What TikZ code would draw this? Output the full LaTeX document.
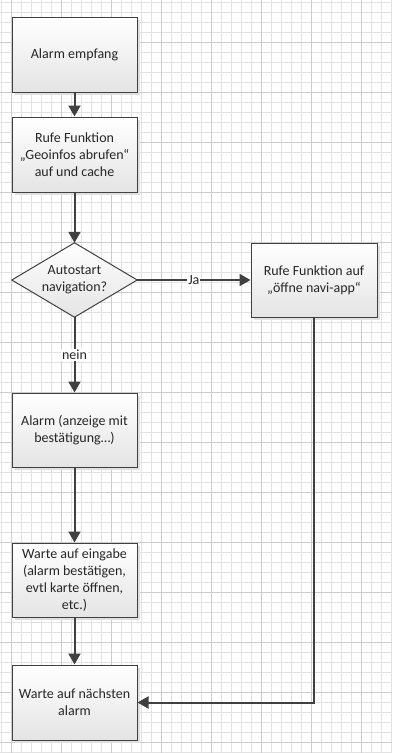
\documentclass[tikz,border=0pt]{standalone}
\usepackage{fontspec}
\setmainfont{Carlito}
\usetikzlibrary{arrows.meta,positioning,shadows,backgrounds}
\definecolor{linegray}{RGB}{64,64,64}
\definecolor{gridminor}{RGB}{226,226,226}
\definecolor{gridmajor}{RGB}{204,204,204}
\definecolor{boxbottom}{RGB}{228,228,228}
\definecolor{textgray}{RGB}{38,38,38}

\tikzset{
    boxfont/.style={font=\fontsize{14}{17}\selectfont, text=textgray},
    procbox/.style={
        boxfont,
        draw=linegray,
        line width=1pt,
        top color=white,
        bottom color=boxbottom,
        minimum width=125pt,
        minimum height=75pt,
        inner sep=2pt,
        align=center,
        drop shadow={shadow xshift=3pt, shadow yshift=-3pt, fill=black!12, opacity=1}
    },
    decbox/.style={boxfont, minimum width=125pt, minimum height=74pt, inner sep=0pt, align=center},
    decshape/.style={draw=linegray, line width=1pt, top color=white, bottom color=boxbottom},
    flow/.style={draw=linegray, line width=2pt, -{Triangle[length=11pt,width=12pt]}},
    flowlabel/.style={boxfont, fill=white, inner sep=1pt}
}

\begin{document}
\begin{tikzpicture}[x=1pt,y=-1pt]
\useasboundingbox (0,0) rectangle (392,753);

\begin{pgfonlayer}{background}
    \fill[white] (0,0) rectangle (392,753);
    % grid paper
    \foreach \gx in {1.7,11.7,...,391.7}
        \draw[gridminor, line width=1pt] (\gx,0) -- (\gx,753);
    \foreach \gy in {2.7,12.7,...,752.7}
        \draw[gridminor, line width=1pt] (0,\gy) -- (392,\gy);
    \foreach \gx in {11.7,61.7,...,361.7}
        \draw[gridmajor, line width=1pt] (\gx,0) -- (\gx,753);
    \foreach \gy in {42.7,92.7,...,742.7}
        \draw[gridmajor, line width=1pt] (0,\gy) -- (392,\gy);
\end{pgfonlayer}

% nodes
\node[procbox] (empfang) at (74.5,54.5) {Alarm empfang};
\node[procbox] (geoinfo) at (74.5,154.5) {Rufe Funktion\\„Geoinfos abrufen“\\auf und cache};
\node[decbox] (autostart) at (74.5,280) {Autostart\\navigation?};
\node[procbox, minimum width=126pt, minimum height=74pt] (navi) at (314,280) {Rufe Funktion auf\\„öffne navi-app“};
\node[procbox, minimum height=74pt] (anzeige) at (74.5,430) {Alarm (anzeige mit\\bestätigung…)};
\node[procbox, minimum height=74pt] (eingabe) at (74.5,580) {Warte auf eingabe\\(alarm bestätigen,\\evtl karte öffnen,\\etc.)};
\node[procbox] (naechster) at (74.5,702.5) {Warte auf nächsten\\alarm};

\begin{pgfonlayer}{background}
    \draw[decshape] (autostart.north) -- (autostart.east) -- (autostart.south) -- (autostart.west) -- cycle;
\end{pgfonlayer}

% connectors
\draw[flow] (empfang) -- (geoinfo);
\draw[flow] (geoinfo) -- (autostart.north);
\draw[flow] (autostart.east) -- node[flowlabel] {Ja} (navi);
\draw[flow] (autostart.south) -- node[flowlabel] {nein} (anzeige);
\draw[flow] (anzeige) -- (eingabe);
\draw[flow] (eingabe) -- (naechster);
\draw[flow] (navi.south) |- (naechster.east);
\end{tikzpicture}
\end{document}
